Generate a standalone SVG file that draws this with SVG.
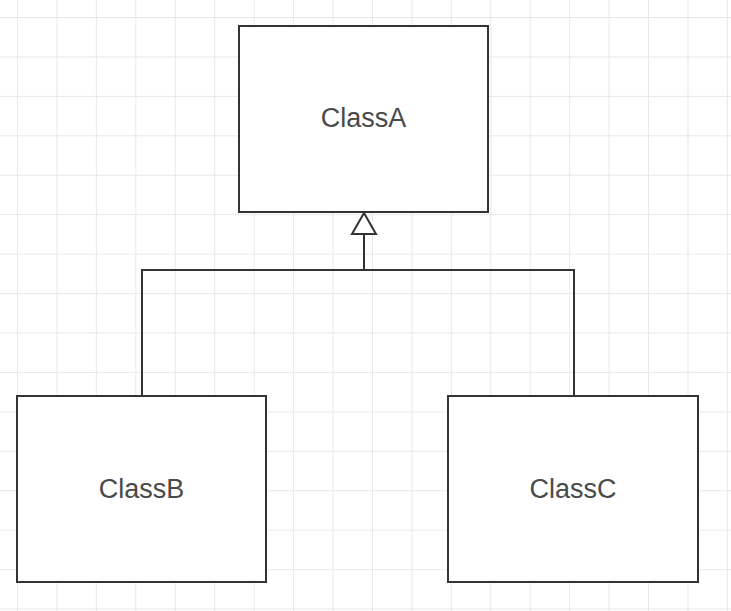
<svg xmlns="http://www.w3.org/2000/svg" width="731" height="611" viewBox="0 0 731 611">
<defs>
<pattern id="grid" x="17" y="17" width="39.44" height="39.44" patternUnits="userSpaceOnUse">
<path d="M0 0H39.44M0 0V39.44" fill="none" stroke="#e8e8e8" stroke-width="2"/>
</pattern>
<marker id="inh" viewBox="0 0 26 22" refX="13" refY="1" markerWidth="26" markerHeight="22" markerUnits="userSpaceOnUse" orient="auto-start-reverse">
<path d="M1 21 L13 1 L25 21 Z" fill="#fff" stroke="#333" stroke-width="2" stroke-linejoin="miter"/>
</marker>
<style>
.box{fill:#fff;stroke:#333;stroke-width:2}
.lbl{font-family:"Liberation Sans",Arial,sans-serif;font-size:27px;fill:#4a4a4a;text-anchor:middle}
.conn{fill:none;stroke:#333;stroke-width:2}
</style>
</defs>
<rect width="731" height="611" fill="#fff"/>
<rect width="731" height="611" fill="url(#grid)"/>
<g id="connectors">
<path class="conn" d="M142 396V270H574V396"/>
<path class="conn" d="M364 270V234"/>
<path d="M352 234 L364 213 L376 234 Z" fill="#fff" stroke="#333" stroke-width="2"/>
</g>
<g id="ClassA">
<rect class="box" x="239" y="26" width="249" height="186"/>
<text class="lbl" x="363.5" y="127">ClassA</text>
</g>
<g id="ClassB">
<rect class="box" x="17" y="396" width="249" height="186"/>
<text class="lbl" x="141.5" y="498">ClassB</text>
</g>
<g id="ClassC">
<rect class="box" x="448" y="396" width="250" height="186"/>
<text class="lbl" x="573" y="498">ClassC</text>
</g>
</svg>
